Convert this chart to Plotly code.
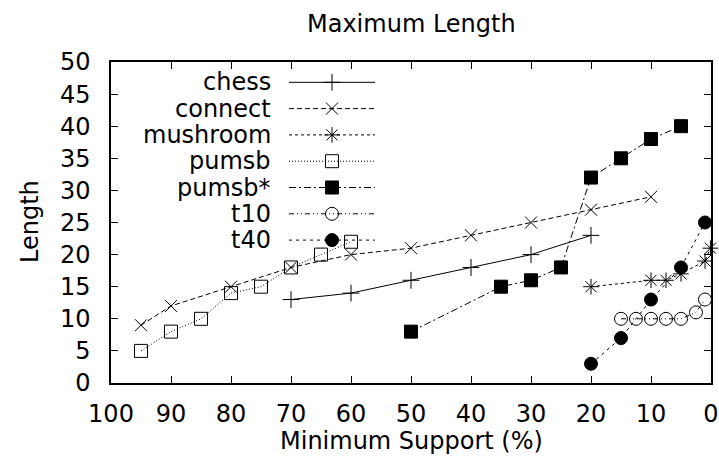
import plotly.graph_objects as go

# ---- data ----
chess_x = [70, 60, 50, 40, 30, 20]
chess_y = [13, 14, 16, 18, 20, 23]
connect_x = [95, 90, 80, 70, 60, 50, 40, 30, 20, 10]
connect_y = [9, 12, 15, 18, 20, 21, 23, 25, 27, 29]
mushroom_x = [20, 10, 7.5, 5, 1, 0.1]
mushroom_y = [15, 16, 16, 17, 19, 21]
pumsb_x = [95, 90, 85, 80, 75, 70, 65, 60]
pumsb_y = [5, 8, 10, 14, 15, 18, 20, 22]
pumsbstar_x = [50, 35, 30, 25, 20, 15, 10, 5]
pumsbstar_y = [8, 15, 16, 18, 32, 35, 38, 40]
t10_x = [15, 12.5, 10, 7.5, 5, 2.5, 1]
t10_y = [10, 10, 10, 10, 10, 11, 13]
t40_x = [20, 15, 10, 5, 1]
t40_y = [3, 7, 13, 18, 25]

x_ticks = [100, 90, 80, 70, 60, 50, 40, 30, 20, 10, 0]
y_ticks = [0, 5, 10, 15, 20, 25, 30, 35, 40, 45, 50]

# ---- styles ----
FONT = "DejaVu Sans"
FS = 24
series = [
    ("chess", chess_x, chess_y, "solid", "cross-thin", 12),
    ("connect", connect_x, connect_y, "5px,3px", "x-thin", 12),
    ("mushroom", mushroom_x, mushroom_y, "3px,3px", "asterisk", 13),
    ("pumsb", pumsb_x, pumsb_y, "1px,2px", "square-open", 13),
    ("pumsb*", pumsbstar_x, pumsbstar_y, "7px,3px,2px,3px", "square", 13),
    ("t10", t10_x, t10_y, "5px,3px,1px,3px,1px,3px", "circle-open", 13),
    ("t40", t40_x, t40_y, "3px,4px", "circle", 13),
]

PL, PR, PT, PB = 111, 711, 62, 383
PW, PH = PR - PL, PB - PT

fig = go.Figure()
for name, xs, ys, dash, sym, sz in series:
    fig.add_trace(go.Scatter(
        x=xs, y=ys, mode="lines+markers", name=name, showlegend=False,
        line=dict(color="black", width=1, dash=dash),
        marker=dict(symbol=sym, size=sz, color="black",
                    line=dict(color="black", width=1)),
        cliponaxis=False,
    ))

# manual gnuplot-style legend (text left, sample right) on overlay axes
leg_top = (PB - 82.3) / PH
leg_step = 26.3 / PH
lx0, lxm, lx1 = (289 - PL) / PW, (332 - PL) / PW, (375 - PL) / PW
ltext = (272 - PL) / PW
annotations = []
for i, (name, xs, ys, dash, sym, sz) in enumerate(series):
    yy = leg_top - i * leg_step
    fig.add_trace(go.Scatter(
        x=[lx0, lx1], y=[yy, yy], mode="lines", xaxis="x2", yaxis="y2",
        showlegend=False, hoverinfo="skip",
        line=dict(color="black", width=1, dash=dash), cliponaxis=False,
    ))
    fig.add_trace(go.Scatter(
        x=[lxm], y=[yy], mode="markers", xaxis="x2", yaxis="y2",
        showlegend=False, hoverinfo="skip",
        marker=dict(symbol=sym, size=sz, color="black",
                    line=dict(color="black", width=1)), cliponaxis=False,
    ))
    annotations.append(dict(
        x=ltext, y=yy, xref="x2", yref="y2", text=name, showarrow=False,
        xanchor="right", yanchor="middle", borderpad=0,
        font=dict(family=FONT, size=FS, color="black"),
    ))

annotations.append(dict(text="Maximum Length", x=(411 - PL) / PW, y=1 + (PT - 24) / PH,
                        xref="paper", yref="paper", showarrow=False, yanchor="middle",
                        font=dict(family=FONT, size=FS, color="black")))
annotations.append(dict(text="Minimum Support (%)", x=(411 - PL) / PW, y=-(441 - PB) / PH,
                        xref="paper", yref="paper", showarrow=False, yanchor="middle",
                        font=dict(family=FONT, size=FS, color="black")))
annotations.append(dict(text="Length", x=-(PL - 30) / PW, y=(PB - 222) / PH,
                        xref="paper", yref="paper", showarrow=False, textangle=-90,
                        xanchor="center", yanchor="middle",
                        font=dict(family=FONT, size=FS, color="black")))

axis_common = dict(
    showgrid=False, zeroline=False, showline=True, linecolor="black", linewidth=1.5,
    mirror="allticks", ticks="inside", ticklen=7, tickcolor="black", tickwidth=1,
    tickfont=dict(family=FONT, size=FS, color="black"), automargin=False,
)
fig.update_layout(
    width=719, height=464,
    margin=dict(l=PL, r=719 - PR, t=PT, b=464 - PB, autoexpand=False),
    paper_bgcolor="white", plot_bgcolor="white",
    xaxis=dict(range=[100, 0], tickvals=x_ticks, ticklabelstandoff=8, **axis_common),
    yaxis=dict(range=[0, 50], tickvals=y_ticks, ticklabelstandoff=14, **axis_common),
    xaxis2=dict(range=[0, 1], overlaying="x", visible=False),
    yaxis2=dict(range=[0, 1], overlaying="y", visible=False),
    annotations=annotations,
    font=dict(family=FONT, size=FS, color="black"),
)
fig.write_html("out.html", config={"displayModeBar": False},
               post_script="document.body.style.margin='0';document.body.style.overflow='hidden';")
